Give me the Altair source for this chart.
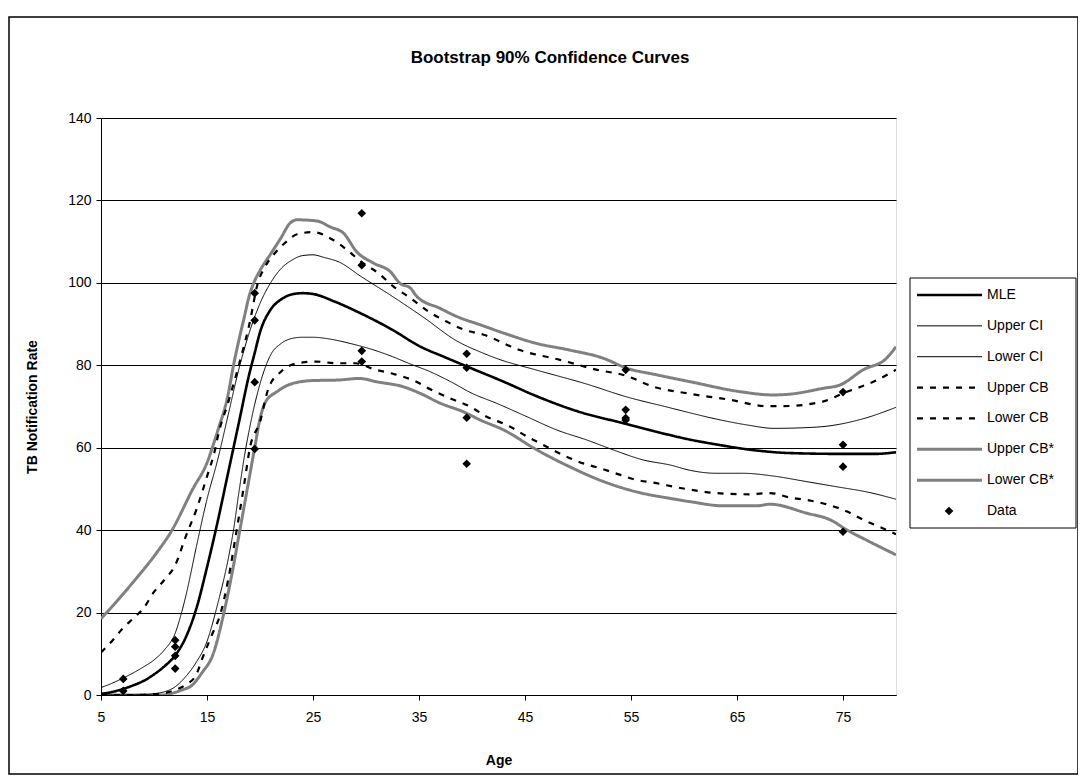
import altair as alt
import pandas as pd

# ---------------- data ----------------
series_names = ["MLE", "Upper CI", "Lower CI", "Upper CB", "Lower CB", "Upper CB*", "Lower CB*"]
title_text = "Bootstrap 90% Confidence Curves"

mle_age = [5, 6, 7, 8, 9, 10, 11, 12, 13, 14, 15, 16, 17, 17.5, 18, 19, 19.5, 20, 21, 22, 23, 24, 25, 27,
           29.5, 32.5, 35, 37.5, 40, 43, 46, 50, 54.5, 57.5, 60.5, 63.5, 66, 70, 75, 78, 80]
mle_val = [0.3, 0.7, 1.4, 2.3, 3.4, 5, 7, 9.6, 14, 21, 31, 42, 54, 60, 66, 78, 83, 88, 93.5, 96, 97.2, 97.5, 97.3, 95.5,
           92.6, 88.6, 84.7, 81.9, 79.2, 76, 72.6, 68.8, 65.8, 63.8, 62, 60.6, 59.6, 58.7, 58.5, 58.5, 58.9]

uci_age = [5, 6, 7, 8, 9, 10, 11, 12, 12.6, 13, 14, 15, 16, 17, 18, 19, 20, 21, 22, 23, 24, 25, 26, 27.5,
           29.5, 32.5, 35.5, 38.5, 41, 42.5, 46, 51, 54.5, 58.5, 60.5, 63.5, 66, 68.5, 72.5, 77, 80]
uci_val = [1.8, 2.8, 4, 5.3, 6.8, 8.5, 11, 15, 20, 24, 36, 47.5, 57, 68, 79, 88, 95, 100, 103.5, 105.5, 106.6, 106.8,
           106.2, 105, 101.6, 96.7, 91.5, 86, 83, 81.5, 78.9, 75.3, 72.4, 69.8, 68.5, 66.7, 65.5, 64.7, 65, 67.1, 69.8]

lci_age = [5, 7, 9, 10, 11, 12, 13, 14, 15, 15.8, 16, 17, 17.5, 18, 18.6, 19, 19.5, 20, 20.5, 21, 22, 23, 24, 25,
           26.5, 28.5, 30.5, 32.5, 34, 36, 38, 40, 42.3, 45.2, 48, 50.8, 53.3, 56.2, 58.7, 60.6, 63, 65.5, 68.5,
           71.5, 74.7, 77.2, 80]
lci_val = [0, 0, 0.1, 0.3, 0.8, 2, 4.5, 8, 13, 20, 22, 33, 40, 49, 59, 64.5, 70.5, 75.5, 79.5, 82.5, 85.3, 86.5, 86.8,
           86.8, 86.4, 85.3, 83.9, 82.1, 80.5, 78.5, 76, 73.2, 70.8, 67.5, 64.3, 61.9, 59.5, 57, 55.8, 54.5, 53.8,
           53.8, 53.1, 51.8, 50.4, 49.3, 47.5]

ucb_age = [5, 6, 7, 8, 9, 10, 11, 12, 13, 14, 15, 15.8, 16, 17, 18, 19, 19.8, 20.5, 21.5, 22.5, 23.5, 25, 26.9,
           28.2, 29.6, 31.2, 32.6, 34.2, 35.7, 37.6, 39.3, 41.1, 44.5, 48.3, 51.8, 54.5, 57.1, 60.3, 64.4, 67.8,
           69.4, 73.1, 75, 78.2, 80]
ucb_val = [10.3, 13, 16, 18.5, 21, 25, 28, 31.5, 38.5, 45, 53, 60, 62.5, 71, 80, 90, 100, 104, 107.5, 110, 111.8,
           112.3, 110.4, 108, 105, 102.3, 99.1, 96.3, 93.4, 90.6, 88.6, 87.4, 83.7, 81.3, 78.9, 77.5, 74.8, 73.2,
           71.6, 70.1, 70.1, 71.2, 73.2, 76.4, 78.9]

lcb_age = [5, 8, 10, 11, 12, 13, 14, 14.5, 15.4, 16.3, 17, 17.8, 18.5, 19.05, 20, 20.8, 22, 23.5, 25.3, 27.2, 29,
           30.8, 32.6, 34.5, 36.2, 37.9, 39.8, 41.4, 43.3, 45.2, 47, 48.6, 50.5, 52.1, 54, 55.5, 57.4, 59.3, 60.9,
           62.5, 66.2, 68.1, 70, 71.6, 73.4, 75.4, 76.9, 78.8, 80]
lcb_val = [0, 0, 0.2, 0.5, 1.2, 2.5, 5, 8.5, 14.2, 20, 28, 40, 51, 60, 66.3, 74.4, 78.5, 80.5, 80.9, 80.5, 80.5, 79,
           77.9, 76.3, 74, 72, 70, 67.5, 65.5, 62.7, 60.3, 58.2, 56.2, 55, 53.4, 52.2, 51.4, 50.4, 49.7, 49.1, 48.7,
           49, 47.9, 47.3, 46.3, 44.5, 42.5, 40.4, 39]

ucbs_age = [5, 6.3, 8.2, 10.1, 11.7, 13.6, 15.1, 15.5, 16, 17, 17.5, 18, 18.5, 19, 19.5, 20, 21, 22, 22.8, 23.5,
            25.4, 26.6, 27.9, 29.1, 30.7, 32.3, 33.2, 34.2, 34.8, 37, 38.6, 40.8, 43, 46.1, 49.2, 52.4, 54.6, 57.4,
            60.6, 65.3, 68.4, 70, 73.1, 74.7, 76.9, 79.1, 80]
ucbs_val = [18.5, 22.2, 27.9, 34, 40, 49.7, 57, 60, 64, 73, 80, 86, 91.5, 97, 100.5, 103, 107, 111, 114.4, 115.3,
            115, 113.6, 112, 107.6, 104.8, 102.7, 99.9, 98.7, 96.7, 93.8, 91.8, 89.8, 87.8, 85.3, 83.7, 81.7, 79.3,
            77.7, 76, 73.6, 72.8, 73, 74.4, 75.2, 78.9, 81.7, 84.5]

lcbs_age = [5, 10, 10.7, 12.6, 13.6, 14.5, 15.6, 16.6, 17.4, 18.1, 18.8, 19.5, 20, 20.5, 21.6, 23.1, 25, 27.2, 29.4,
            31, 33.5, 35.1, 37, 39.2, 40.8, 43, 46.1, 49.2, 52.4, 55.5, 58.7, 60.6, 63.7, 66.9, 68.1, 71.6, 73.8,
            75.4, 77.2, 80]
lcbs_val = [0, 0, 0, 1.2, 2.4, 5.3, 10.1, 20, 30, 40, 50, 60, 67, 71, 73.6, 75.6, 76.3, 76.4, 76.8, 76, 74.8, 73.2,
            70.8, 68.7, 66.7, 64.3, 59.5, 55.4, 51.8, 49.3, 47.7, 46.9, 45.9, 45.9, 46.3, 44.1, 42.5, 40, 37.6, 34]

data_age = [7.1, 7.1, 12, 12, 12, 12, 19.5, 19.5, 19.5, 19.5, 29.6, 29.6, 29.6, 29.6,
            39.5, 39.5, 39.5, 39.5, 54.5, 54.5, 54.5, 54.5, 75, 75, 75, 75]
data_val = [3.9, 1.0, 13.3, 11.7, 9.5, 6.4, 97.5, 90.9, 75.9, 59.7, 116.9, 104.3, 83.5, 80.9,
            82.8, 79.4, 67.3, 56.1, 78.9, 69.2, 67.2, 66.7, 73.5, 60.7, 55.4, 39.6]

x_ticks = [5, 15, 25, 35, 45, 55, 65, 75]
y_ticks = [0, 20, 40, 60, 80, 100, 120, 140]

# ---------------- tables ----------------
pairs = [(mle_age, mle_val), (uci_age, uci_val), (lci_age, lci_val), (ucb_age, ucb_val),
         (lcb_age, lcb_val), (ucbs_age, ucbs_val), (lcbs_age, lcbs_val)]
frames = []
for name, (a, v) in zip(series_names, pairs):
    frames.append(pd.DataFrame({"series": name, "age": a, "value": v}))
curves = pd.concat(frames, ignore_index=True)
points = pd.DataFrame({"age": data_age, "value": data_val})
legend_df = pd.DataFrame({"series": series_names + ["Data"], "idx": list(range(8))})

FONT = "Liberation Sans"
x_scale = alt.Scale(domain=[5, 80], nice=False, zero=False)
y_scale = alt.Scale(domain=[0, 140], nice=False)
leg_scale = alt.Scale(domain=[0, 7], range=[177, 393])

# line style groups: (series in group, colour, width, dash)
styles = [
    (["Upper CB*", "Lower CB*"], "#808080", 3.0, [1, 0]),
    (["Upper CB", "Lower CB"], "black", 2.2, [6, 7]),
    (["Upper CI", "Lower CI"], "black", 1.0, [1, 0]),
    (["MLE"], "black", 2.6, [1, 0]),
]

x_axis = alt.Axis(values=x_ticks, title="Age", grid=False, tickSize=5, tickColor="black",
                  domainColor="black", labelFontSize=14, labelFont=FONT, labelPadding=10,
                  labelColor="black", titleFont=FONT, titleFontSize=14, titleFontWeight="bold",
                  titlePadding=29, titleColor="black", labelFlush=False)
y_axis = alt.Axis(values=y_ticks, title="TB Notification Rate", grid=True, gridColor="black",
                  gridWidth=1, tickSize=5, tickColor="black", domainColor="black",
                  labelFontSize=14, labelFont=FONT, labelPadding=5, labelColor="black",
                  titleFont=FONT, titleFontSize=14, titleFontWeight="bold", titlePadding=28,
                  titleColor="black", labelFlush=False)

layers = []

frame = alt.Chart(pd.DataFrame({"k": [0]})).mark_rect(fill="transparent", stroke="black", strokeWidth=1.5).encode(
    x=alt.value(-92), x2=alt.value(977), y=alt.value(-101), y2=alt.value(656))
layers.append(frame)

title = alt.Chart(pd.DataFrame({"t": [title_text]})).mark_text(
    font=FONT, fontSize=17, fontWeight="bold", color="black", align="center", baseline="middle").encode(
    x=alt.value(449), y=alt.value(-60), text="t:N")
layers.append(title)

first = True
for names, col, w, dash in styles:
    xenc = alt.X("age:Q", scale=x_scale, axis=x_axis) if first else alt.X("age:Q", scale=x_scale)
    yenc = alt.Y("value:Q", scale=y_scale, axis=y_axis) if first else alt.Y("value:Q", scale=y_scale, axis=None)
    layers.append(alt.Chart(curves).transform_filter(
        alt.FieldOneOfPredicate(field="series", oneOf=names)).mark_line(
        interpolate="monotone", clip=True, color=col, strokeWidth=w, strokeDash=dash).encode(
        x=xenc, y=yenc, detail="series:N"))
    first = False

pts = alt.Chart(points).mark_point(shape="diamond", filled=True, color="black", size=75, opacity=1).encode(
    x=alt.X("age:Q", scale=x_scale),
    y=alt.Y("value:Q", scale=y_scale, axis=None),
)
layers.append(pts)

leg_box = alt.Chart(pd.DataFrame({"k": [0]})).mark_rect(fill="white", stroke="black", strokeWidth=1).encode(
    x=alt.value(809), x2=alt.value(975), y=alt.value(160), y2=alt.value(410))
layers.append(leg_box)

for names, col, w, dash in styles:
    layers.append(alt.Chart(legend_df).transform_filter(
        alt.FieldOneOfPredicate(field="series", oneOf=names)).mark_rule(
        color=col, strokeWidth=w, strokeDash=dash).encode(
        x=alt.value(816), x2=alt.value(881), y=alt.Y("idx:Q", scale=leg_scale, axis=None)))

leg_pt = alt.Chart(legend_df).transform_filter(alt.datum.series == "Data").mark_point(
    shape="diamond", filled=True, color="black", size=75, opacity=1).encode(
    x=alt.value(848), y=alt.Y("idx:Q", scale=leg_scale, axis=None))
layers.append(leg_pt)

leg_text = alt.Chart(legend_df).mark_text(align="left", baseline="middle", fontSize=14, font=FONT,
                                          color="black").encode(
    x=alt.value(886), y=alt.Y("idx:Q", scale=leg_scale, axis=None), text="series:N")
layers.append(leg_text)

chart = alt.layer(*layers).resolve_scale(y="independent").properties(
    width=795, height=577,
    autosize=alt.AutoSizeParams(type="none"),
    padding={"left": 93, "top": 110, "right": 182, "bottom": 81},
).configure_view(stroke="#808080", strokeWidth=1).configure(background="white")

chart.save("out.html", embed_options={"renderer": "svg", "actions": False})
